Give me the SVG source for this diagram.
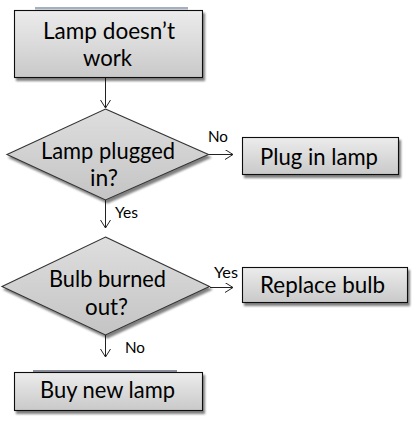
<svg xmlns="http://www.w3.org/2000/svg" width="414" height="422" viewBox="0 0 414 422">
<defs>
<linearGradient id="boxg" x1="0" y1="0" x2="0" y2="1">
<stop offset="0" stop-color="#ececec"/>
<stop offset="1" stop-color="#c9c9c9"/>
</linearGradient>
<linearGradient id="diag" x1="0" y1="0" x2="0" y2="1">
<stop offset="0" stop-color="#dedede"/>
<stop offset="1" stop-color="#c4c4c4"/>
</linearGradient>
<filter id="sh" x="-10%" y="-10%" width="130%" height="140%">
<feGaussianBlur in="SourceAlpha" stdDeviation="1.3"/>
<feOffset dx="2" dy="2.5" result="b"/>
<feComponentTransfer><feFuncA type="linear" slope="0.5"/></feComponentTransfer>
<feMerge><feMergeNode/><feMergeNode in="SourceGraphic"/></feMerge>
</filter>
<marker id="arr" markerWidth="12" markerHeight="12" refX="9" refY="5" orient="auto" markerUnits="userSpaceOnUse">
<path d="M1,0 L9,5 L1,10" fill="none" stroke="#222" stroke-width="1"/>
</marker>
</defs>
<style>
.box{fill:url(#boxg);stroke:#111;stroke-width:1.1;filter:url(#sh)}
.dia{fill:url(#diag);stroke:#333;stroke-width:1.1;filter:url(#sh)}
.t{font-family:Lato,"Liberation Sans",sans-serif;font-size:23px;fill:#000}
.l{font-family:Lato,"Liberation Sans",sans-serif;font-size:15px;fill:#000}
.c{fill:none;stroke:#222;stroke-width:1;marker-end:url(#arr)}
</style>
<rect width="414" height="422" fill="#fff"/>
<rect x="35" y="7" width="153" height="2.5" fill="#6a7a93" opacity="0.6"/>
<rect x="33" y="370" width="144" height="2" fill="#4a5263" opacity="0.65"/>
<g id="connectors">
<path class="c" d="M105.5,78 V108"/>
<path class="c" d="M209,154.5 H233"/>
<path class="c" d="M105.5,200 V228"/>
<path class="c" d="M210,287.5 H233"/>
<path class="c" d="M105.5,335 V357"/>
<text class="l" x="208" y="142" textLength="20" lengthAdjust="spacingAndGlyphs">No</text>
<text class="l" x="115" y="218" textLength="23" lengthAdjust="spacingAndGlyphs">Yes</text>
<text class="l" x="214" y="278" textLength="24" lengthAdjust="spacingAndGlyphs">Yes</text>
<text class="l" x="125" y="353" textLength="20" lengthAdjust="spacingAndGlyphs">No</text>
</g>
<g id="start">
<rect class="box" x="14.5" y="10.5" width="188" height="67"/>
<text class="t" x="43" y="39" textLength="132" lengthAdjust="spacingAndGlyphs">Lamp doesn’t</text>
<text class="t" x="83" y="66" textLength="49" lengthAdjust="spacingAndGlyphs">work</text>
</g>
<g id="plugged">
<polygon class="dia" points="105.5,109 208.5,154.5 105.5,200 7,154.5"/>
<text class="t" x="41" y="159" textLength="134" lengthAdjust="spacingAndGlyphs">Lamp plugged</text>
<text class="t" x="90" y="186" textLength="28" lengthAdjust="spacingAndGlyphs">in?</text>
</g>
<g id="plugin">
<rect class="box" x="242.5" y="137.5" width="156" height="37"/>
<text class="t" x="260" y="165" textLength="118" lengthAdjust="spacingAndGlyphs">Plug in lamp</text>
</g>
<g id="bulb">
<polygon class="dia" points="105.5,237 209.5,286.5 105.5,335 2,286.5"/>
<text class="t" x="49" y="287" textLength="117" lengthAdjust="spacingAndGlyphs">Bulb burned</text>
<text class="t" x="85" y="315" textLength="43" lengthAdjust="spacingAndGlyphs">out?</text>
</g>
<g id="replace">
<rect class="box" x="242.5" y="267.5" width="165" height="35"/>
<text class="t" x="260" y="293" textLength="125" lengthAdjust="spacingAndGlyphs">Replace bulb</text>
</g>
<g id="buy">
<rect class="box" x="14.5" y="372.5" width="188" height="38"/>
<text class="t" x="40" y="398" textLength="135" lengthAdjust="spacingAndGlyphs">Buy new lamp</text>
</g>
</svg>
